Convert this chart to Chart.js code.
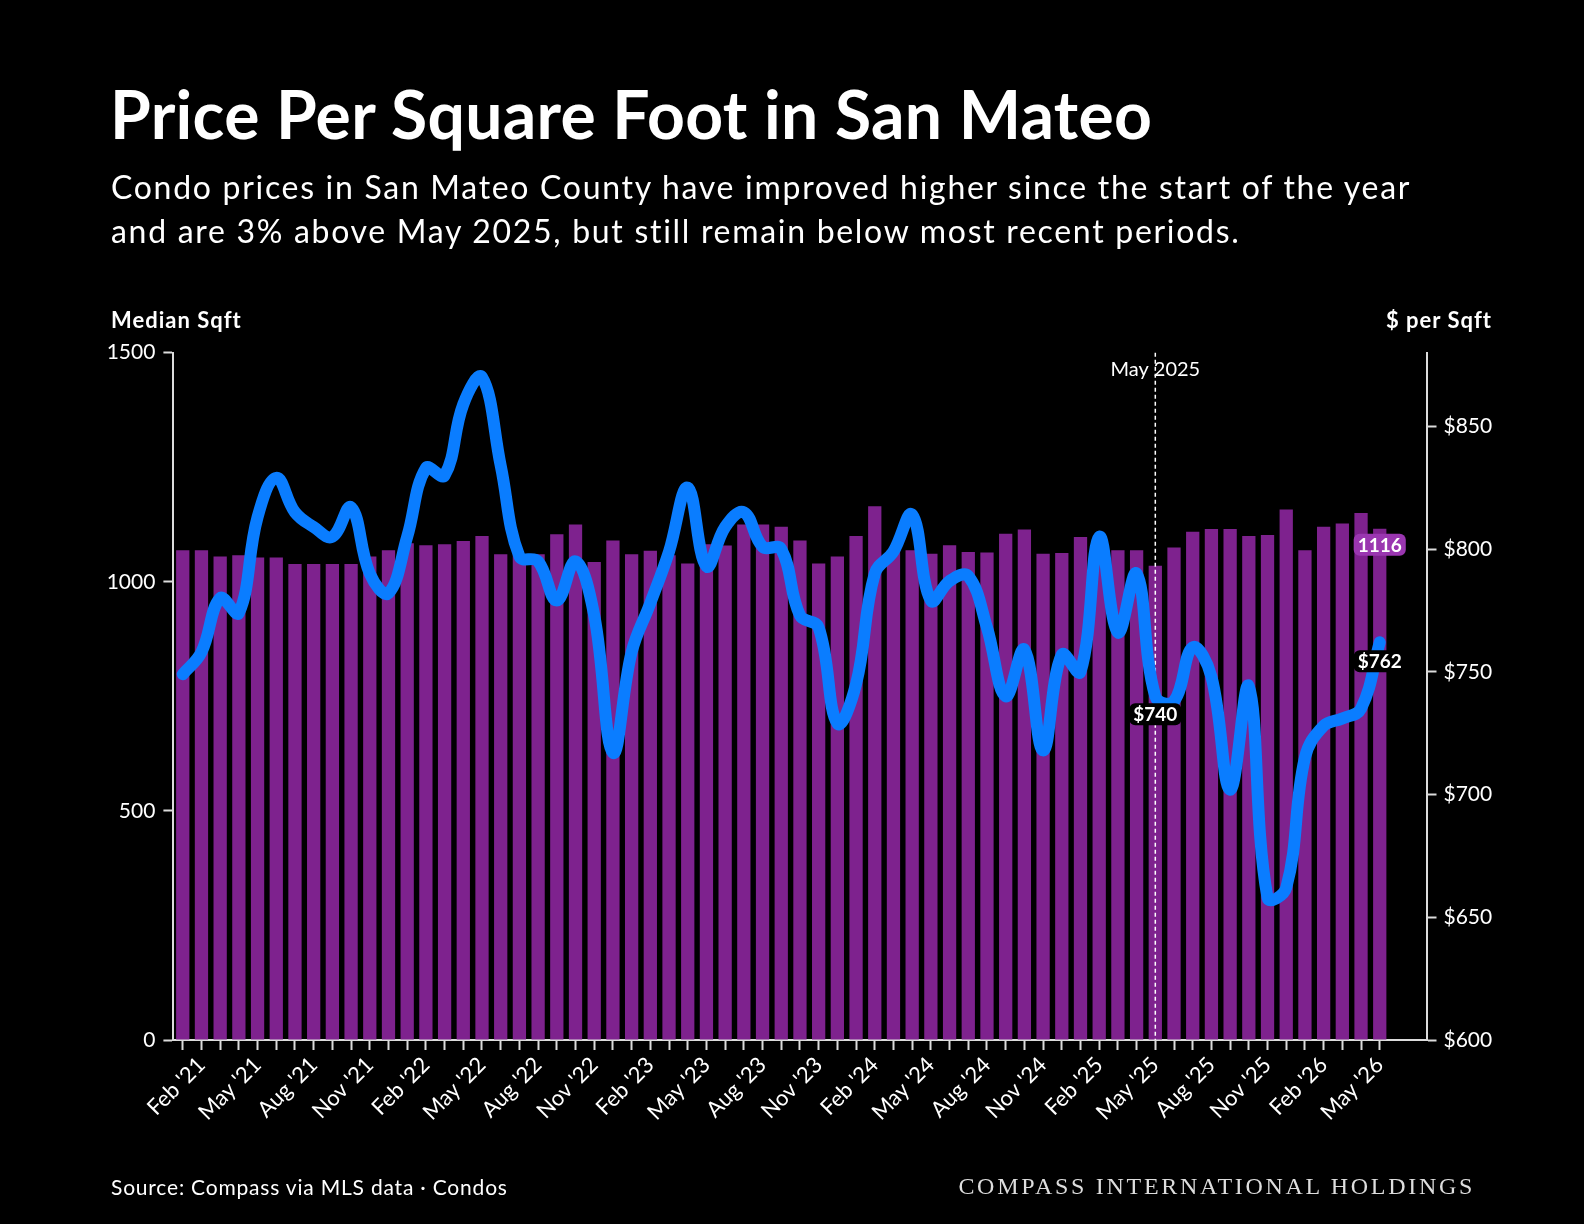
<!DOCTYPE html>
<html>
<head>
<meta charset="utf-8">
<script src="https://cdn.jsdelivr.net/npm/chart.js@4.4.1/dist/chart.umd.min.js"></script>
<style>
  html, body { margin: 0; padding: 0; background: #000; }
  body { width: 1584px; height: 1224px; position: relative; overflow: hidden; font-family: 'Lato', sans-serif; color: #fff; }
  #chart { position: absolute; left: 0; top: 0; }
  .txt { position: absolute; white-space: nowrap; }
  #title { left: 110px; top: 74px; font-size: 66px; line-height: 79px; font-weight: 700; letter-spacing: 0.3px; }
  #sub { left: 111px; top: 165px; font-size: 32px; line-height: 44px; letter-spacing: 1.7px; }
  #lab-left { left: 111px; top: 307px; font-size: 22px; line-height: 26px; font-weight: 700; letter-spacing: 1px; }
  #lab-right { right: 92px; top: 307px; font-size: 22px; line-height: 26px; font-weight: 700; letter-spacing: 1px; }
  #source { left: 111px; top: 1175px; font-size: 21px; line-height: 24px; letter-spacing: 0.8px; }
  #brand { right: 109px; top: 1172px; font-family: 'Liberation Serif', serif; font-size: 24px; line-height: 28px; letter-spacing: 2.7px; color: #ddd; }
</style>
</head>
<body>
<canvas id="chart" width="1584" height="1224"></canvas>
<div class="txt" id="title">Price Per Square Foot in San Mateo</div>
<div class="txt" id="sub">Condo prices in San Mateo County have improved higher since the start of the year<br>and are 3% above May 2025, but still remain below most recent periods.</div>
<div class="txt" id="lab-left">Median Sqft</div>
<div class="txt" id="lab-right">$ per Sqft</div>
<div class="txt" id="source">Source: Compass via MLS data · Condos</div>
<div class="txt" id="brand">COMPASS INTERNATIONAL HOLDINGS</div>
<script>
// months, Jan '21 .. May '26
const months = [
    "Jan '21", "Feb '21", "Mar '21", "Apr '21", "May '21", "Jun '21", "Jul '21", "Aug '21", "Sep '21", "Oct '21", "Nov '21", "Dec '21",
    "Jan '22", "Feb '22", "Mar '22", "Apr '22", "May '22", "Jun '22", "Jul '22", "Aug '22", "Sep '22", "Oct '22", "Nov '22", "Dec '22",
    "Jan '23", "Feb '23", "Mar '23", "Apr '23", "May '23", "Jun '23", "Jul '23", "Aug '23", "Sep '23", "Oct '23", "Nov '23", "Dec '23",
    "Jan '24", "Feb '24", "Mar '24", "Apr '24", "May '24", "Jun '24", "Jul '24", "Aug '24", "Sep '24", "Oct '24", "Nov '24", "Dec '24",
    "Jan '25", "Feb '25", "Mar '25", "Apr '25", "May '25", "Jun '25", "Jul '25", "Aug '25", "Sep '25", "Oct '25", "Nov '25", "Dec '25",
    "Jan '26", "Feb '26", "Mar '26", "Apr '26", "May '26"
];

// median sqft (bars, left axis)
const medianSqft = [
    1069, 1069, 1055, 1058, 1053, 1053, 1039, 1039, 1039, 1039, 1055, 1069,
    1084, 1080, 1082, 1089, 1100, 1060, 1060, 1060, 1104, 1125, 1043, 1090,
    1060, 1068, 1058, 1040, 1082, 1079, 1125, 1125, 1120, 1090, 1040, 1055,
    1100, 1165, 1069, 1069, 1061, 1080, 1065, 1064, 1105, 1114, 1061, 1063,
    1098, 1075, 1069, 1069, 1035, 1075, 1109, 1115, 1115, 1100, 1102, 1158,
    1069, 1120, 1127, 1150, 1116
];

// $ per sqft (line, right axis)
const pricePerSqft = [
    749, 758, 780, 774, 813, 829, 815, 809, 805, 817, 790, 782,
    805, 833, 830, 859, 870, 834, 797, 795, 779, 795, 773, 717,
    758, 778, 799, 825, 793, 809, 815, 801, 800, 773, 768, 729,
    745, 790, 799, 814, 779, 787, 789, 768, 740, 759, 718, 757,
    750, 805, 766, 790, 740, 738, 760, 748, 702, 744, 658, 662,
    715, 728, 731, 735, 762
];

const leftTicks = [0, 500, 1000, 1500];
const rightTicks = [600, 650, 700, 750, 800, 850];
const markMonth = "May '25";
const markText = 'May 2025';

const axisColor = '#dcdcdc';
const barColor = '#7e228e';
const lineColor = '#0a7dff';

// two blank slots keep the right axis clear of the last bar
const xLabels = months.concat(['', '']);

function drawTag(ctx, text, cx, cy, bg) {
    ctx.font = 'bold 19px Lato';
    const w = ctx.measureText(text).width;
    ctx.fillStyle = bg;
    ctx.beginPath();
    ctx.roundRect(cx - w / 2 - 4, cy - 11, w + 8, 22, 6);
    ctx.fill();
    ctx.fillStyle = '#fff';
    ctx.textAlign = 'center';
    ctx.textBaseline = 'middle';
    ctx.fillText(text, cx, cy + 1);
}

const annotate = {
    id: 'annotate',
    afterDatasetDraw(chart, args) {
        if (args.meta.type !== 'bar') return;
        const ctx = chart.ctx;
        const area = chart.chartArea;
        const x = chart.scales.x.getPixelForValue(months.indexOf(markMonth));
        ctx.save();
        ctx.strokeStyle = '#fff';
        ctx.lineWidth = 1.5;
        ctx.setLineDash([4, 3]);
        ctx.beginPath();
        ctx.moveTo(x, area.top);
        ctx.lineTo(x, area.bottom);
        ctx.stroke();
        ctx.setLineDash([]);
        ctx.fillStyle = '#fff';
        ctx.font = '20px Lato';
        ctx.textAlign = 'center';
        ctx.textBaseline = 'middle';
        ctx.fillText(markText, x, area.top + 17);
        ctx.restore();
    },
    afterDatasetsDraw(chart) {
        const ctx = chart.ctx;
        const line = chart.getDatasetMeta(0).data;
        const bars = chart.getDatasetMeta(1).data;
        const mi = months.indexOf(markMonth);
        const last = months.length - 1;
        ctx.save();
        drawTag(ctx, '$' + pricePerSqft[mi], line[mi].x, line[mi].y + 18, '#000');
        drawTag(ctx, '$' + pricePerSqft[last], line[last].x, line[last].y + 19, '#000');
        drawTag(ctx, String(medianSqft[last]), bars[last].x, bars[last].y + 16, '#9a36b0');
        ctx.restore();
    }
};

document.addEventListener('DOMContentLoaded', function () {
    const ctx = document.getElementById('chart').getContext('2d');
    new Chart(ctx, {
        type: 'bar',
        data: {
            labels: xLabels,
            datasets: [{
                type: 'line',
                label: '$ per Sqft',
                data: pricePerSqft,
                yAxisID: 'y1',
                borderColor: lineColor,
                borderWidth: 12,
                tension: 0.4,
                pointRadius: 0,
                borderCapStyle: 'round',
                borderJoinStyle: 'round',
                fill: false,
                order: 1
            }, {
                type: 'bar',
                label: 'Median Sqft',
                data: medianSqft,
                yAxisID: 'y',
                backgroundColor: barColor,
                barPercentage: 0.71,
                categoryPercentage: 1,
                order: 2
            }]
        },
        options: {
            responsive: false,
            animation: false,
            devicePixelRatio: 1,
            layout: {
                padding: { left: 83.4, right: 67.5, top: 352.7, bottom: 74 }
            },
            plugins: {
                legend: { display: false },
                tooltip: { enabled: false }
            },
            scales: {
                x: {
                    offset: true,
                    grid: {
                        drawOnChartArea: false,
                        offset: false,
                        tickLength: 10,
                        tickWidth: 2,
                        tickColor: c => c.index < months.length ? axisColor : 'rgba(0,0,0,0)'
                    },
                    border: { display: true, color: axisColor, width: 2 },
                    ticks: {
                        autoSkip: false,
                        maxRotation: 45,
                        minRotation: 45,
                        padding: 2,
                        color: '#fff',
                        font: { family: 'Lato', size: 22 },
                        callback: (v, i) => (i % 3 === 1 && i < months.length) ? months[i] : ''
                    },
                    afterFit: s => { s.height = 110; }
                },
                y: {
                    position: 'left',
                    min: leftTicks[0],
                    max: leftTicks[leftTicks.length - 1],
                    afterBuildTicks: s => { s.ticks = leftTicks.map(v => ({ value: v })); },
                    grid: { drawOnChartArea: false, tickLength: 10, tickWidth: 2, tickColor: axisColor },
                    border: { display: true, color: axisColor, width: 2 },
                    ticks: {
                        color: '#fff',
                        padding: 8,
                        font: { family: 'Lato', size: 21 },
                        callback: v => String(v)
                    },
                    afterFit: s => { s.width = 90; }
                },
                y1: {
                    position: 'right',
                    min: 600,
                    max: 880,
                    afterBuildTicks: s => { s.ticks = rightTicks.map(v => ({ value: v })); },
                    grid: { drawOnChartArea: false, tickLength: 10, tickWidth: 2, tickColor: axisColor },
                    border: { display: true, color: axisColor, width: 2 },
                    ticks: {
                        color: '#fff',
                        padding: 7,
                        font: { family: 'Lato', size: 21 },
                        callback: v => '$' + v
                    },
                    afterFit: s => { s.width = 90; }
                }
            }
        },
        plugins: [annotate]
    });
});
</script>
</body>
</html>
